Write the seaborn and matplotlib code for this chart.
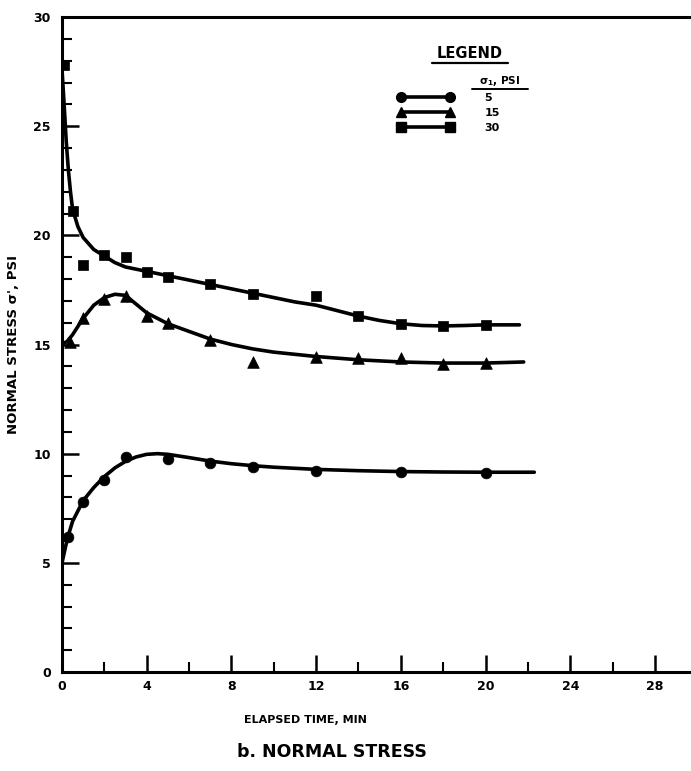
import numpy as np
import pandas as pd
import seaborn as sns
import matplotlib
matplotlib.use("Agg")
import matplotlib.pyplot as plt
from matplotlib.lines import Line2D
from matplotlib.ticker import MultipleLocator

circle_t = [0.3, 1, 2, 3, 5, 7, 9, 12, 16, 20]
circle_s = [6.2, 7.8, 8.8, 9.85, 9.75, 9.55, 9.4, 9.2, 9.15, 9.1]

tri_t = [0.4, 1, 2, 3, 4, 5, 7, 9, 12, 14, 16, 18, 20]
tri_s = [15.1, 16.2, 17.1, 17.2, 16.3, 16.0, 15.2, 14.2, 14.45, 14.4, 14.4, 14.1, 14.15]

sq_t = [0.1, 0.5, 1, 2, 3, 4, 5, 7, 9, 12, 14, 16, 18, 20]
sq_s = [27.8, 21.1, 18.65, 19.1, 19.0, 18.3, 18.1, 17.75, 17.3, 17.2, 16.3, 15.95, 15.85, 15.9]

# hand drawn fit curves
circle_curve_t = [0, 0.25, 0.5, 1, 1.5, 2, 2.5, 3, 3.5, 4, 4.5, 5, 6, 7, 8, 9, 10, 12, 14, 16, 18, 20, 22.3]
circle_curve_s = [5.0, 6.1, 6.9, 7.85, 8.45, 8.95, 9.35, 9.65, 9.85, 9.97, 10.0, 9.97, 9.82, 9.66, 9.54,
                  9.45, 9.38, 9.28, 9.22, 9.18, 9.16, 9.15, 9.15]

tri_curve_t = [0, 0.25, 0.5, 1, 1.5, 2, 2.5, 3, 3.5, 4, 5, 6, 7, 8, 9, 10, 12, 14, 16, 18, 20, 21.8]
tri_curve_s = [15.0, 15.15, 15.45, 16.2, 16.8, 17.15, 17.3, 17.25, 16.85, 16.45, 15.95, 15.6, 15.25, 15.0,
               14.8, 14.65, 14.45, 14.3, 14.2, 14.15, 14.15, 14.2]

sq_curve_t = [0, 0.1, 0.2, 0.3, 0.4, 0.5, 0.75, 1, 1.5, 2, 2.5, 3, 4, 5, 6, 7, 8, 9, 10, 11, 12, 13, 14,
              15, 16, 17, 18, 19, 20, 21.6]
sq_curve_s = [27.6, 26.0, 24.3, 23.0, 22.0, 21.2, 20.4, 19.9, 19.35, 19.05, 18.75, 18.55, 18.35, 18.15,
              17.95, 17.75, 17.55, 17.35, 17.15, 16.95, 16.8, 16.55, 16.3, 16.1, 15.95, 15.87, 15.85,
              15.87, 15.9, 15.9]

legend_labels = ["5", "15", "30"]
markers = ["o", "^", "s"]

sns.set_style("ticks")
plt.rcParams['font.family'] = ['DejaVu Sans']
plt.rcParams['font.weight'] = 'bold'
plt.rcParams['text.color'] = 'black'
plt.rcParams['axes.labelcolor'] = 'black'
plt.rcParams['xtick.color'] = 'black'
plt.rcParams['ytick.color'] = 'black'
plt.rcParams['axes.edgecolor'] = 'black'

fig = plt.figure(figsize=(6.91, 7.71), dpi=100)
ax = fig.add_axes([62 / 691, 1 - 672 / 771, 629 / 691, 655 / 771])

curves = [(circle_curve_t, circle_curve_s), (tri_curve_t, tri_curve_s), (sq_curve_t, sq_curve_s)]
points = [(circle_t, circle_s), (tri_t, tri_s), (sq_t, sq_s)]

for (ct, cs), (pt, ps), m in zip(curves, points, markers):
    sns.lineplot(x=ct, y=cs, ax=ax, color="black", lw=2.6, sort=False, estimator=None)
    sns.scatterplot(x=pt, y=ps, ax=ax, marker=m, color="black", s=60 if m != "^" else 70,
                    edgecolor="black", linewidth=0.5, zorder=3)

ax.set_xlim(0, 29.7)
ax.set_ylim(0, 30)
ax.xaxis.set_major_locator(MultipleLocator(4))
ax.xaxis.set_minor_locator(MultipleLocator(2))
ax.yaxis.set_major_locator(MultipleLocator(5))
ax.yaxis.set_minor_locator(MultipleLocator(1))
ax.tick_params(which="both", bottom=True, left=True, top=False, right=False)
ax.tick_params(which="major", direction="in", length=12, width=1.8, labelsize=9, pad=6)
ax.tick_params(which="minor", direction="in", length=7, width=1.5)
ax.tick_params(axis="y", which="both", pad=8)
for lab in ax.get_xticklabels() + ax.get_yticklabels():
    lab.set_fontweight("bold")

ax.spines["right"].set_visible(False)
for sp in ["left", "bottom", "top"]:
    ax.spines[sp].set_visible(True)
    ax.spines[sp].set_linewidth(2.2)

ax.set_xlabel("ELAPSED TIME, MIN", fontsize=8, fontweight="bold")
ax.xaxis.set_label_coords(243 / 629, -0.065)
ax.set_ylabel("NORMAL STRESS σ', PSI", fontsize=9.5, fontweight="bold")
ax.yaxis.set_label_coords(-0.066, 0.5)

fig.text(332 / 691, 1 - 752 / 771, "b. NORMAL STRESS", ha="center", va="center",
         fontsize=12.5, fontweight="bold")

# legend block
handles = [Line2D([0], [0], color="black", lw=2.6, marker=m, markersize=7) for m in markers]
leg = ax.legend(handles, legend_labels, loc="upper left", bbox_to_anchor=(398 / 691, 1 - 93 / 771),
                bbox_transform=fig.transFigure, frameon=False, numpoints=2, handlelength=5.0,
                handletextpad=2.8, labelspacing=0.45, borderpad=0, borderaxespad=0, fontsize=8)
for t in leg.get_texts():
    t.set_fontweight("bold")

fig.text(470 / 691, 1 - 54 / 771, "LEGEND", ha="center", va="center", fontsize=10.5, fontweight="bold")
fig.add_artist(Line2D([432 / 691, 508 / 691], [1 - 63 / 771, 1 - 63 / 771], color="black", lw=1.6))
fig.text(500 / 691, 1 - 81 / 771, "σ$_1$, PSI", ha="center", va="center", fontsize=7.5, fontweight="bold")
fig.add_artist(Line2D([472 / 691, 528 / 691], [1 - 89 / 771, 1 - 89 / 771], color="black", lw=1.4))

fig.savefig("out.png", dpi=100)
